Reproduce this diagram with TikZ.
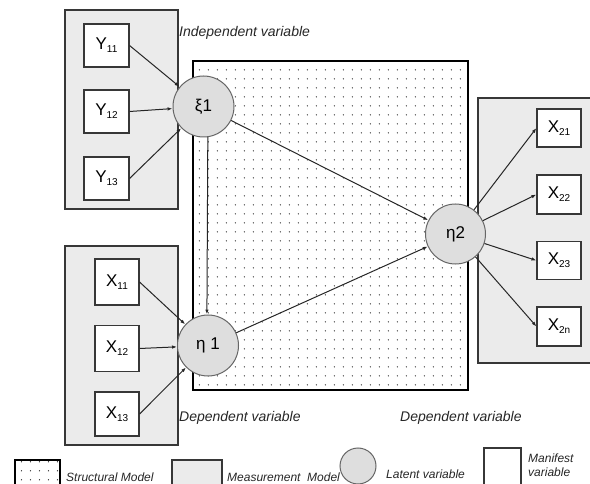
\documentclass[tikz,border=0pt]{standalone}
\usepackage{fontspec}
\setmainfont{Liberation Sans}
\usetikzlibrary{arrows.meta,patterns.meta}
\definecolor{measgray}{RGB}{235,235,235}
\definecolor{latgray}{RGB}{222,222,222}
\definecolor{edgegray}{RGB}{55,55,55}
\tikzdeclarepattern{name=structdots,type=uncolored,
                    bottom left={(0pt,0pt)},top right={(8.9pt,8.6pt)},
                    tile size={(8.9pt,8.6pt)},
                    code={\fill (4.45pt,4.3pt) circle (0.7pt);}}
\tikzstyle{manifest}=[rectangle,draw=edgegray,fill=white,line width=1.1pt,
                      inner sep=0pt,font=\fontsize{17}{17}\selectfont]
\tikzstyle{latent}=[circle,draw=black!60,fill=latgray,line width=1pt,
                    inner sep=0pt,minimum size=61pt,font=\fontsize{17}{17}\selectfont]
\tikzstyle{measbox}=[draw=edgegray,fill=measgray,line width=1.1pt]
\tikzstyle{structbox}=[draw=black,line width=1.1pt,pattern=structdots,pattern color=black!85]
\tikzstyle{link}=[draw=black!85,line width=1pt,-{Latex[length=5pt,width=3.5pt]}]
\tikzstyle{caption}=[font=\fontsize{14}{14}\selectfont\itshape,text=black!85,
                     inner sep=0pt,anchor=west]
\tikzstyle{legtext}=[font=\fontsize{12}{14}\selectfont\itshape,text=black!85,
                     inner sep=0pt,anchor=west,align=left]
\newcommand{\lowidx}[2]{#1\raisebox{-3pt}{\fontsize{10}{10}\selectfont #2}}

\begin{document}
\begin{tikzpicture}[x=1pt,y=-1pt]
    \useasboundingbox (0,0) rectangle (590,484);
    \clip (0,0) rectangle (590,484);
    % model areas
    \draw[structbox] (193,61) rectangle (468,390);
    \draw[measbox] (65,10) rectangle (178,209);
    \draw[measbox] (65,246) rectangle (178,445);
    \draw[measbox] (478,98) rectangle (600,363);
    % latent variables
    \node (xi1) at (203.5,106.5) [latent]{ξ1};
    \node (eta1) at (208,345.5) [latent]{η 1};
    \node (eta2) at (455.5,234) [latent,minimum size=60pt]{η2};
    % manifest variables
    \node (y11) at (106.5, 45.5) [manifest,minimum width=45pt,minimum height=43pt]{\lowidx{Y}{11}};
    \node (y12) at (106.5,111.5) [manifest,minimum width=45pt,minimum height=43pt]{\lowidx{Y}{12}};
    \node (y13) at (106.5,178.5) [manifest,minimum width=45pt,minimum height=43pt]{\lowidx{Y}{13}};
    \node (x11) at (117,282) [manifest,minimum width=44pt,minimum height=46pt]{\lowidx{X}{11}};
    \node (x12) at (117,348.5) [manifest,minimum width=44pt,minimum height=46pt]{\lowidx{X}{12}};
    \node (x13) at (117,414) [manifest,minimum width=44pt,minimum height=44pt]{\lowidx{X}{13}};
    \node (x21) at (559,128) [manifest,minimum width=44pt,minimum height=38pt]{\lowidx{X}{21}};
    \node (x22) at (559,194.5) [manifest,minimum width=44pt,minimum height=39pt]{\lowidx{X}{22}};
    \node (x23) at (559,260.5) [manifest,minimum width=44pt,minimum height=38pt]{\lowidx{X}{23}};
    \node (x2n) at (559,326.5) [manifest,minimum width=44pt,minimum height=39pt]{\lowidx{X}{2n}};
    % links
    \draw[link] (y11.east) -- (xi1);
    \draw[link] (y12.east) -- (xi1);
    \draw[link] (y13.east) -- (xi1);
    \draw[link] (x11.east) -- (eta1);
    \draw[link] (x12.east) -- (eta1);
    \draw[link] (x13.east) -- (eta1);
    \draw[link] (xi1.-82) -- (eta1.92);
    \draw[link] (xi1) -- (eta2);
    \draw[link] (eta1) -- (eta2);
    \draw[link] (eta2) -- (x21.west);
    \draw[link] (eta2) -- (x22.west);
    \draw[link] (eta2) -- (x23.west);
    \draw[link] (eta2) -- (x2n.west);
    % captions
    \node (indep) at (179,33) [caption]{Independent variable};
    \node (dep1) at (179,418) [caption]{Dependent variable};
    \node (dep2) at (400,418) [caption]{Dependent variable};
    % legend
    \draw[structbox] (15,460) rectangle (60,495);
    \node (legstruct) at (66,477) [legtext]{Structural Model};
    \draw[measbox] (172,460) rectangle (222,495);
    \node (legmeas) at (227,477) [legtext]{Measurement\ \ Model};
    \node (leglat) at (358,466) [latent,minimum size=36pt]{};
    \node (leglattext) at (386,474) [legtext]{Latent variable};
    \draw[measbox,fill=white] (484,448) rectangle (521,495);
    \node (legman) at (528,465) [legtext]{Manifest\\variable};
\end{tikzpicture}
\end{document}
